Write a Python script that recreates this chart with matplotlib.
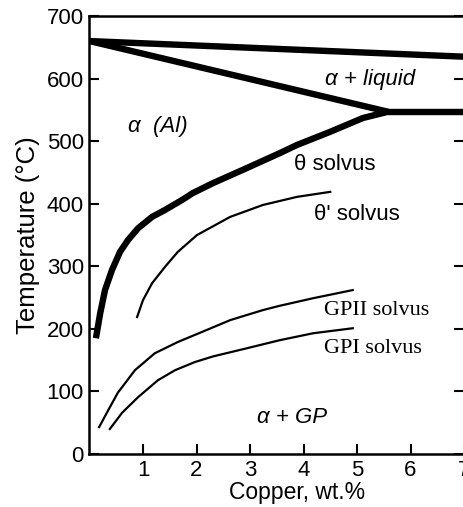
import matplotlib
matplotlib.use("Agg")
import matplotlib.pyplot as plt

# ---- data ----
liquidus_x = [0.0, 7.0]
liquidus_y = [660, 635]
solidus_x = [0.0, 5.58]
solidus_y = [660, 547]
eutectic_x = [5.58, 7.0]
eutectic_y = [547, 547]

theta_x = [0.12, 0.20, 0.29, 0.42, 0.57, 0.72, 0.91, 1.17, 1.41, 1.73, 1.93, 2.31, 2.94, 3.56, 3.88, 4.50, 5.11, 5.58]
theta_y = [185, 225, 262, 294, 323, 342, 361, 379, 390, 406, 417, 433, 457, 481, 494, 515, 537, 547]

thetap_x = [0.89, 1.00, 1.17, 1.41, 1.65, 2.01, 2.63, 3.24, 3.88, 4.50]
thetap_y = [219, 246, 273, 299, 323, 350, 379, 398, 411, 419]

gp2_x = [0.18, 0.35, 0.53, 0.85, 1.22, 1.65, 2.10, 2.63, 3.24, 3.56, 4.18, 4.92]
gp2_y = [43, 70, 98, 134, 161, 179, 195, 214, 230, 237, 249, 262]

gp1_x = [0.38, 0.61, 0.91, 1.28, 1.60, 1.97, 2.31, 2.94, 3.56, 4.18, 4.92]
gp1_y = [40, 66, 91, 118, 134, 147, 156, 169, 182, 193, 201]

x_ticks = [1, 2, 3, 4, 5, 6, 7]
y_ticks = [0, 100, 200, 300, 400, 500, 600, 700]

plt.rcParams['font.family'] = ['Liberation Sans', 'DejaVu Sans']

fig = plt.figure(figsize=(4.63, 5.07), dpi=100)
ax = fig.add_axes([0.1933, 0.1045, 0.8089, 0.8639])

thick = 4.6
thin = 1.6
ax.plot(liquidus_x, liquidus_y, color='black', lw=thick, solid_capstyle='butt')
ax.plot(solidus_x, solidus_y, color='black', lw=thick, solid_capstyle='butt')
ax.plot(eutectic_x, eutectic_y, color='black', lw=thick, solid_capstyle='butt')
ax.plot(theta_x, theta_y, color='black', lw=thick, solid_capstyle='butt', solid_joinstyle='round')
ax.plot(thetap_x, thetap_y, color='black', lw=thin, solid_joinstyle='round')
ax.plot(gp2_x, gp2_y, color='black', lw=thin, solid_joinstyle='round')
ax.plot(gp1_x, gp1_y, color='black', lw=thin, solid_joinstyle='round')

ax.set_xlim(0, 7)
ax.set_ylim(0, 700)
ax.set_xticks(x_ticks)
ax.set_yticks(y_ticks)
ax.tick_params(axis='both', direction='in', length=7, width=1.5, labelsize=16, pad=4)
ax.tick_params(axis='y', right=True)
for s in ax.spines.values():
    s.set_linewidth(1.8)

ax.set_xlabel('Copper, wt.%', fontsize=16.5)
ax.xaxis.set_label_coords(0.554, -0.062)
ax.set_ylabel('Temperature (°C)', fontsize=18.5, labelpad=5)

fs = 16
ax.text(1.28, 524, 'α  (Al)', fontsize=fs, style='italic', ha='center', va='center')
ax.text(5.24, 598, 'α + liquid', fontsize=fs, style='italic', ha='center', va='center')
ax.text(4.59, 462, 'θ solvus', fontsize=fs, ha='center', va='center')
ax.text(5.0, 382, "θ' solvus", fontsize=fs, ha='center', va='center')
ax.text(5.37, 230, 'GPII solvus', fontsize=fs, family=['Liberation Serif', 'DejaVu Serif'], ha='center', va='center')
ax.text(5.30, 169, 'GPI solvus', fontsize=fs, family=['Liberation Serif', 'DejaVu Serif'], ha='center', va='center')
ax.text(3.79, 59, 'α + GP', fontsize=fs, style='italic', ha='center', va='center')

fig.savefig('out.png', dpi=100)
